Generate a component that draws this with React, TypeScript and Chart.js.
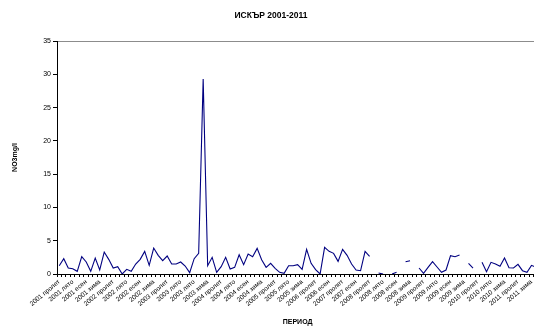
import { useEffect, useRef } from 'react';
import { Chart, registerables } from 'chart.js';

Chart.register(...registerables);

const FONT = "'Liberation Sans', Arial, sans-serif";

// Season labels printed on the axis (one for every third sample)
const seasonLabels = [
  '2001 пролет', '2001 лято', '2001 есен', '2001 зима',
  '2002 пролет', '2002 лято', '2002 есен', '2002 зима',
  '2003 пролет', '2003 лято', '2003 лято', '2003 зима',
  '2004 пролет', '2004 лято', '2004 есен', '2004 зима',
  '2005 пролет', '2005 лято', '2005 зима',
  '2006 пролет', '2006 есен',
  '2007 пролет', '2007 есен',
  '2008 пролет', '2008 лято', '2008 есен', '2008 зима',
  '2009 пролет', '2009 лято', '2009 есен', '2009 зима',
  '2010 пролет', '2010 лято', '2010 зима',
  '2011 пролет', '2011 зима',
];

// NO3 concentration, mg/l, one value per sample (null = no measurement)
const no3Values: (number | null)[] = [
  1.25, 2.3, 0.9, 0.8, 0.4, 2.6, 1.8, 0.4, 2.4, 0.6,
  3.3, 2.2, 0.9, 1.1, 0.0, 0.7, 0.4, 1.5, 2.2, 3.4,
  1.3, 3.9, 2.8, 2.0, 2.7, 1.5, 1.5, 1.8, 1.2, 0.2,
  2.3, 3.1, 29.3, 1.25, 2.5, 0.25, 1.1, 2.5, 0.75, 1.0,
  2.9, 1.4, 3.0, 2.6, 3.85, 2.15, 1.0, 1.6, 0.85, 0.25,
  0.1, 1.25, 1.25, 1.4, 0.7, 3.7, 1.6, 0.65, 0.0, 4.0,
  3.4, 3.1, 1.9, 3.7, 2.8, 1.5, 0.6, 0.5, 3.4, 2.65,
  null, 0.15, 0.0, null, 0.0, 0.25, null, 1.85, 2.0, null,
  0.9, 0.1, 1.0, 1.85, 1.05, 0.25, 0.6, 2.75, 2.6, 2.85,
  null, 1.6, 0.9, null, 1.75, 0.35, 1.75, 1.5, 1.15, 2.4,
  0.95, 0.9, 1.45, 0.5, 0.25, 1.3, 1.0,
];

const categories = seasonLabels
  .flatMap((s) => [s, s, s])
  .slice(0, no3Values.length);

const Y_MIN = 0;
const Y_MAX = 35;
const Y_STEP = 5;

export default function App() {
  const canvasRef = useRef<HTMLCanvasElement | null>(null);

  useEffect(() => {
    const canvas = canvasRef.current;
    if (!canvas) return;
    const chart = new Chart(canvas, {
      type: 'line',
      data: {
        labels: categories,
        datasets: [
          {
            data: no3Values,
            borderColor: '#000080',
            borderWidth: 1.1,
            pointRadius: 0,
            tension: 0,
            spanGaps: false,
            fill: false,
          },
        ],
      },
      options: {
        responsive: false,
        animation: false,
        layout: { padding: 0 },
        plugins: {
          legend: { display: false },
          tooltip: { enabled: false },
          title: {
            display: true,
            text: 'ИСКЪР 2001-2011',
            color: '#000',
            font: { family: FONT, size: 8.5, weight: 'bold' },
            padding: { top: 11, bottom: 19.8 },
          },
        },
        scales: {
          x: {
            type: 'category',
            offset: true,
            grid: {
              offset: true,
              drawOnChartArea: false,
              tickLength: 3,
              color: '#000',
            },
            border: { color: '#000', width: 1 },
            ticks: {
              autoSkip: false,
              minRotation: 40,
              maxRotation: 40,
              padding: 1,
              color: '#000',
              font: { family: FONT, size: 6.5 },
              callback: (_v: any, i: number) => (i % 3 === 0 ? categories[i] : ''),
            },
            title: {
              display: true,
              text: 'ПЕРИОД',
              color: '#000',
              font: { family: FONT, size: 7, weight: 'bold' },
              padding: { top: 0, bottom: 1 },
            },
            afterFit: (s: any) => {
              s.height = 53;
            },
          },
          y: {
            min: Y_MIN,
            max: Y_MAX,
            ticks: {
              stepSize: Y_STEP,
              padding: 2,
              color: '#000',
              font: { family: FONT, size: 7 },
            },
            grid: {
              color: (ctx: any) =>
                ctx.tick && ctx.tick.value === Y_MAX ? '#8c8c8c' : 'rgba(0,0,0,0)',
              tickColor: '#000',
              tickLength: 4,
            },
            border: { color: '#000', width: 1 },
            title: {
              display: true,
              text: 'NO3mg/l',
              color: '#000',
              font: { family: FONT, size: 7, weight: 'bold' },
              padding: { top: 11, bottom: 0 },
            },
            afterFit: (s: any) => {
              s.width = 57;
            },
          },
        },
      },
    });
    return () => chart.destroy();
  }, []);

  return (
    <div
      style={{
        position: 'absolute',
        left: 0,
        top: 0,
        width: 534,
        height: 327,
        overflow: 'hidden',
        background: '#fff',
      }}
    >
      <canvas ref={canvasRef} width={542} height={327} style={{ display: 'block' }} />
    </div>
  );
}
